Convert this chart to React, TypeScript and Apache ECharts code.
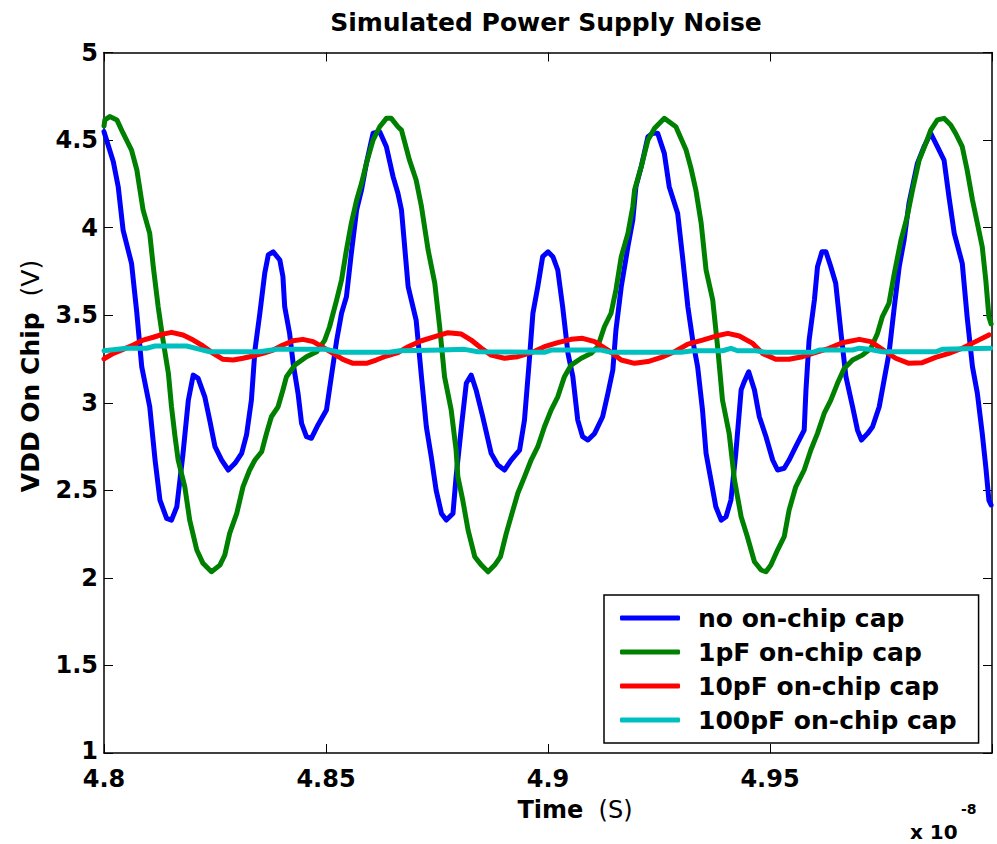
import React, { useEffect, useRef } from "react";
import * as echarts from "echarts";

// time in units of 1e-8 s, voltage in V
const noCap: [number, number][] = [
  [4.8, 4.548], [4.8021, 4.376], [4.8032, 4.234], [4.8043, 3.986], [4.8062, 3.796], [4.8074, 3.511], [4.8085, 3.206], [4.8103, 2.977], [4.8115, 2.673], [4.8126, 2.444],
  [4.8141, 2.34], [4.8152, 2.33], [4.8164, 2.406], [4.8178, 2.711], [4.819, 3.015], [4.8201, 3.158], [4.8212, 3.139], [4.8227, 3.034], [4.8238, 2.901], [4.825, 2.749],
  [4.8265, 2.673], [4.828, 2.616], [4.8295, 2.654], [4.831, 2.711], [4.8321, 2.816], [4.8332, 3.015], [4.834, 3.301], [4.8351, 3.511], [4.8362, 3.739], [4.837, 3.844],
  [4.8381, 3.862], [4.8396, 3.815], [4.8403, 3.72], [4.8407, 3.548], [4.8418, 3.396], [4.8426, 3.225], [4.8437, 3.054], [4.8445, 2.882], [4.8456, 2.806], [4.8467, 2.797],
  [4.8482, 2.873], [4.8501, 2.958], [4.8512, 3.149], [4.8524, 3.356], [4.8535, 3.511], [4.8546, 3.605], [4.8557, 3.853], [4.8569, 4.101], [4.858, 4.215], [4.8591, 4.367],
  [4.8606, 4.539], [4.8621, 4.548], [4.8636, 4.462], [4.8651, 4.291], [4.8662, 4.196], [4.867, 4.101], [4.8685, 3.663], [4.8703, 3.472], [4.8715, 3.149], [4.8726, 2.863],
  [4.8737, 2.692], [4.8748, 2.501], [4.876, 2.368], [4.8771, 2.33], [4.8786, 2.368], [4.8793, 2.577], [4.8805, 2.863], [4.8816, 3.111], [4.8827, 3.158], [4.8838, 3.073],
  [4.8853, 2.92], [4.8872, 2.711], [4.8887, 2.644], [4.8902, 2.616], [4.8917, 2.673], [4.8936, 2.73], [4.8947, 2.901], [4.8958, 3.244], [4.8966, 3.511], [4.8977, 3.663],
  [4.8988, 3.834], [4.9, 3.862], [4.9011, 3.834], [4.9022, 3.758], [4.9033, 3.548], [4.9045, 3.282], [4.9056, 3.149], [4.9067, 2.901], [4.9078, 2.806], [4.909, 2.787],
  [4.9105, 2.825], [4.9123, 2.92], [4.9135, 3.054], [4.9146, 3.187], [4.9153, 3.415], [4.9165, 3.663], [4.918, 3.891], [4.9191, 4.043], [4.9198, 4.234], [4.921, 4.348],
  [4.9225, 4.519], [4.9236, 4.539], [4.9247, 4.539], [4.9262, 4.424], [4.9273, 4.234], [4.9292, 4.082], [4.9303, 3.834], [4.9315, 3.548], [4.9326, 3.356], [4.9337, 3.206],
  [4.9348, 2.958], [4.9356, 2.711], [4.9367, 2.559], [4.9378, 2.406], [4.939, 2.33], [4.9401, 2.349], [4.9412, 2.444], [4.9423, 2.711], [4.9435, 3.073], [4.9442, 3.12],
  [4.9452, 3.177], [4.9465, 3.073], [4.9476, 2.92], [4.9491, 2.806], [4.9506, 2.673], [4.9517, 2.616], [4.9532, 2.626], [4.9543, 2.673], [4.9558, 2.749], [4.9577, 2.844],
  [4.9581, 3.073], [4.9588, 3.356], [4.96, 3.587], [4.9607, 3.777], [4.9617, 3.862], [4.9626, 3.862], [4.9637, 3.777], [4.9648, 3.682], [4.966, 3.396], [4.9671, 3.149],
  [4.9686, 2.977], [4.9697, 2.844], [4.9706, 2.787], [4.972, 2.825], [4.9731, 2.863], [4.9746, 2.977], [4.9757, 3.13], [4.9768, 3.282], [4.978, 3.548], [4.9791, 3.777],
  [4.9802, 3.929], [4.9813, 4.139], [4.9832, 4.367], [4.9847, 4.462], [4.9862, 4.539], [4.9877, 4.462], [4.9892, 4.386], [4.9903, 4.177], [4.9915, 3.967], [4.9933, 3.796],
  [4.9944, 3.491], [4.9956, 3.206], [4.9967, 3.054], [4.9978, 2.825], [4.9986, 2.635], [4.9993, 2.444], [4.9998, 2.416],
];

const cap1pF: [number, number][] = [
  [4.8, 4.58], [4.8002, 4.615], [4.8013, 4.634], [4.8029, 4.615], [4.8043, 4.539], [4.8062, 4.443], [4.8074, 4.329], [4.8088, 4.101], [4.8103, 3.967], [4.8111, 3.777],
  [4.8122, 3.548], [4.8133, 3.356], [4.8145, 3.168], [4.8152, 2.977], [4.816, 2.806], [4.8167, 2.673], [4.8182, 2.52], [4.8193, 2.33], [4.8209, 2.159], [4.8223, 2.083],
  [4.8242, 2.035], [4.8261, 2.073], [4.8272, 2.13], [4.8283, 2.254], [4.8299, 2.368], [4.8313, 2.52], [4.8328, 2.616], [4.834, 2.673], [4.8355, 2.72], [4.8366, 2.825],
  [4.8377, 2.92], [4.8392, 2.977], [4.8403, 3.073], [4.8411, 3.149], [4.843, 3.215], [4.8456, 3.263], [4.8479, 3.291], [4.8497, 3.356], [4.8508, 3.434], [4.8524, 3.587],
  [4.8535, 3.701], [4.8546, 3.872], [4.8557, 4.025], [4.8569, 4.158], [4.858, 4.253], [4.8591, 4.367], [4.8606, 4.5], [4.8621, 4.576], [4.8636, 4.624], [4.8647, 4.624],
  [4.8662, 4.576], [4.867, 4.557], [4.8688, 4.386], [4.8703, 4.272], [4.8715, 4.12], [4.873, 3.872], [4.8745, 3.682], [4.8756, 3.434], [4.8767, 3.149], [4.8782, 2.958],
  [4.8793, 2.73], [4.8797, 2.577], [4.8808, 2.444], [4.882, 2.273], [4.8835, 2.121], [4.885, 2.073], [4.8865, 2.035], [4.888, 2.073], [4.8893, 2.121], [4.8906, 2.254],
  [4.8921, 2.387], [4.8932, 2.483], [4.8947, 2.577], [4.8962, 2.673], [4.8977, 2.749], [4.8992, 2.863], [4.9007, 2.958], [4.9022, 3.034], [4.9037, 3.149], [4.9052, 3.215],
  [4.9075, 3.254], [4.9097, 3.282], [4.9112, 3.32], [4.9127, 3.434], [4.9142, 3.511], [4.9153, 3.644], [4.9165, 3.834], [4.918, 3.967], [4.9191, 4.12], [4.9195, 4.215],
  [4.921, 4.348], [4.9225, 4.5], [4.924, 4.567], [4.9262, 4.624], [4.9288, 4.576], [4.9311, 4.443], [4.9322, 4.34], [4.9333, 4.215], [4.9345, 4.025], [4.9356, 3.758],
  [4.9371, 3.587], [4.9382, 3.32], [4.9393, 3.015], [4.9408, 2.825], [4.942, 2.559], [4.9435, 2.349], [4.9449, 2.235], [4.9465, 2.092], [4.948, 2.045], [4.9491, 2.035],
  [4.9502, 2.073], [4.9517, 2.159], [4.9532, 2.235], [4.9543, 2.387], [4.9558, 2.52], [4.9577, 2.616], [4.9592, 2.73], [4.9607, 2.825], [4.9622, 2.939], [4.9637, 3.015],
  [4.9652, 3.111], [4.9667, 3.196], [4.9686, 3.244], [4.9708, 3.272], [4.9727, 3.31], [4.9742, 3.396], [4.9753, 3.491], [4.9768, 3.568], [4.978, 3.739], [4.9795, 3.929],
  [4.9809, 4.063], [4.9821, 4.215], [4.9836, 4.386], [4.9851, 4.481], [4.9862, 4.557], [4.9877, 4.615], [4.9892, 4.624], [4.9907, 4.586], [4.9918, 4.539], [4.9933, 4.462],
  [4.9944, 4.329], [4.9956, 4.158], [4.9967, 4.025], [4.9978, 3.891], [4.9986, 3.701], [4.9993, 3.491], [4.9998, 3.45],
];

const cap10pF: [number, number][] = [
  [4.8, 3.25], [4.8002, 3.254], [4.8021, 3.282], [4.8043, 3.305], [4.8066, 3.33], [4.8088, 3.358], [4.8111, 3.374], [4.8133, 3.392], [4.8152, 3.402], [4.8178, 3.387],
  [4.8201, 3.358], [4.8223, 3.324], [4.8246, 3.282], [4.8268, 3.248], [4.8291, 3.244], [4.8313, 3.254], [4.8336, 3.267], [4.8358, 3.282], [4.8381, 3.301], [4.8403, 3.33],
  [4.8426, 3.354], [4.8448, 3.362], [4.8471, 3.349], [4.8493, 3.317], [4.8516, 3.282], [4.8538, 3.248], [4.8561, 3.225], [4.8591, 3.225], [4.8613, 3.244], [4.8636, 3.267],
  [4.8662, 3.286], [4.8685, 3.32], [4.8715, 3.354], [4.8745, 3.377], [4.8775, 3.4], [4.8805, 3.392], [4.8827, 3.358], [4.885, 3.311], [4.8872, 3.272], [4.8902, 3.254],
  [4.8932, 3.263], [4.8962, 3.286], [4.8992, 3.32], [4.9022, 3.343], [4.9052, 3.362], [4.9078, 3.368], [4.9105, 3.349], [4.9135, 3.301], [4.9165, 3.244], [4.9195, 3.225],
  [4.9225, 3.235], [4.9255, 3.259], [4.9285, 3.291], [4.9315, 3.335], [4.9348, 3.358], [4.9378, 3.381], [4.9405, 3.396], [4.9431, 3.381], [4.9461, 3.339], [4.9483, 3.282],
  [4.9513, 3.248], [4.9543, 3.248], [4.9573, 3.263], [4.9607, 3.291], [4.9633, 3.311], [4.9663, 3.343], [4.9701, 3.362], [4.9727, 3.349], [4.9753, 3.305], [4.9783, 3.254],
  [4.9813, 3.225], [4.9843, 3.229], [4.9873, 3.259], [4.9903, 3.282], [4.9933, 3.311], [4.9963, 3.349], [4.9993, 3.387],
];

const cap100pF: [number, number][] = [
  [4.8, 3.297], [4.8051, 3.311], [4.8096, 3.311], [4.8115, 3.324], [4.8186, 3.324], [4.8216, 3.305], [4.8238, 3.291], [4.8351, 3.291], [4.8389, 3.305], [4.8501, 3.305],
  [4.8531, 3.288], [4.8643, 3.288], [4.8666, 3.297], [4.876, 3.301], [4.8812, 3.305], [4.8842, 3.291], [4.8992, 3.288], [4.9007, 3.301], [4.912, 3.301], [4.9142, 3.288],
  [4.93, 3.288], [4.9326, 3.297], [4.9393, 3.297], [4.9412, 3.311], [4.9427, 3.297], [4.9468, 3.297], [4.9491, 3.288], [4.9596, 3.288], [4.9611, 3.301], [4.9686, 3.301],
  [4.9701, 3.311], [4.9723, 3.305], [4.9753, 3.291], [4.9873, 3.291], [4.9888, 3.305], [4.9997, 3.311],
];

const seriesNames = ["no on-chip cap", "1pF on-chip cap", "10pF on-chip cap", "100pF on-chip cap"];
const seriesColors = ["#0000ff", "#008000", "#ff0000", "#00bfbf"];
const seriesData = [noCap, cap1pF, cap10pF, cap100pF];

const xMin = 4.8;
const xMax = 5.0;
const xStep = 0.05;
const yMin = 1;
const yMax = 5;
const yStep = 0.5;

const chartTitle = "Simulated Power Supply Noise";
const xName = "Time";
const xUnit = "(S)";
const yName = "VDD On Chip";
const yUnit = "(V)";
const xExponent = "-8";

const FONT = "DejaVu Sans";

export default function App() {
  const ref = useRef<HTMLDivElement>(null);
  useEffect(() => {
    if (!ref.current) return;
    const chart = echarts.init(ref.current, undefined, { renderer: "svg" });
    const axisLine = { show: true, lineStyle: { color: "#000", width: 1.5 } };
    const tick = { show: true, inside: true, length: 9, lineStyle: { color: "#000", width: 1 } };
    const xFmt = (v: number) => (v > xMax - 1e-6 ? "" : String(parseFloat(v.toFixed(3))));
    const yFmt = (v: number) => {
      const s = String(parseFloat(v.toFixed(3)));
      return v < yMin + 1e-6 ? `{lo|${s}}` : s;
    };
    const labelStyle = { fontFamily: FONT, fontWeight: "bold" as const, fontSize: 24, lineHeight: 18, color: "#000" };
    const option: any = {
      animation: false,
      backgroundColor: "#fff",
      grid: { left: 104, top: 52.5, right: 5, bottom: 91, containLabel: false },
      xAxis: [
        {
          type: "value", position: "bottom", min: xMin, max: xMax, interval: xStep,
          axisLine, axisTick: tick, splitLine: { show: false },
          axisLabel: { ...labelStyle, margin: 17, formatter: xFmt, showMinLabel: true, showMaxLabel: true },
        },
        {
          type: "value", position: "top", min: xMin, max: xMax, interval: xStep,
          axisLine, axisTick: tick, splitLine: { show: false }, axisLabel: { show: false },
        },
      ],
      yAxis: [
        {
          type: "value", position: "left", min: yMin, max: yMax, interval: yStep,
          axisLine, axisTick: tick, splitLine: { show: false },
          axisLabel: {
            ...labelStyle, margin: 6, formatter: yFmt,
            rich: { lo: { fontFamily: FONT, fontWeight: "bold", fontSize: 24, lineHeight: 18, color: "#000", padding: [0, 0, 5, 0] } },
          },
        },
        {
          type: "value", position: "right", min: yMin, max: yMax, interval: yStep,
          axisLine, axisTick: tick, splitLine: { show: false }, axisLabel: { show: false },
        },
      ],
      legend: {
        orient: "vertical",
        left: 604,
        top: 595,
        padding: [8, 22, 8, 16],
        itemWidth: 60,
        itemHeight: 5,
        itemGap: 4,
        icon: "roundRect",
        backgroundColor: "#fff",
        borderColor: "#000",
        borderWidth: 1.5,
        borderRadius: 0,
        textStyle: { fontFamily: FONT, fontWeight: "bold", fontSize: 25, color: "#000", lineHeight: 30, padding: [0, 0, 0, 13] },
        data: seriesNames,
      },
      series: seriesData.map((d, i) => ({
        name: seriesNames[i],
        type: "line",
        data: d,
        showSymbol: false,
        symbol: "none",
        color: seriesColors[i],
        lineStyle: { color: seriesColors[i], width: 5, cap: "round", join: "round" },
        z: 2 + i,
      })),
      graphic: [
        {
          type: "text", x: 546, y: 22,
          style: { text: chartTitle, fontFamily: FONT, fontWeight: "bold", fontSize: 25, fill: "#000", textAlign: "center", textVerticalAlign: "middle" },
        },
        {
          type: "text", x: 575, y: 810,
          style: {
            text: `{b|${xName}}{n|  ${xUnit}}`, textAlign: "center", textVerticalAlign: "middle",
            rich: {
              b: { fontFamily: FONT, fontWeight: "bold", fontSize: 24, fill: "#000" },
              n: { fontFamily: FONT, fontWeight: "normal", fontSize: 24, fill: "#000" },
            },
          },
        },
        {
          type: "text", x: 30, y: 376, rotation: Math.PI / 2,
          style: {
            text: `{b|${yName}}{n|  ${yUnit}}`, textAlign: "center", textVerticalAlign: "middle",
            rich: {
              b: { fontFamily: FONT, fontWeight: "bold", fontSize: 25, fill: "#000" },
              n: { fontFamily: FONT, fontWeight: "normal", fontSize: 25, fill: "#000" },
            },
          },
        },
        {
          type: "text", x: 910, y: 832,
          style: { text: "x 10", fontFamily: FONT, fontWeight: "bold", fontSize: 20, fill: "#000", textAlign: "left", textVerticalAlign: "middle" },
        },
        {
          type: "text", x: 961, y: 809,
          style: { text: xExponent, fontFamily: FONT, fontWeight: "bold", fontSize: 14, fill: "#000", textAlign: "left", textVerticalAlign: "middle" },
        },
      ],
    };
    chart.setOption(option);
    return () => chart.dispose();
  }, []);
  return <div ref={ref} style={{ position: "absolute", left: 0, top: 0, width: 997, height: 844 }} />;
}
